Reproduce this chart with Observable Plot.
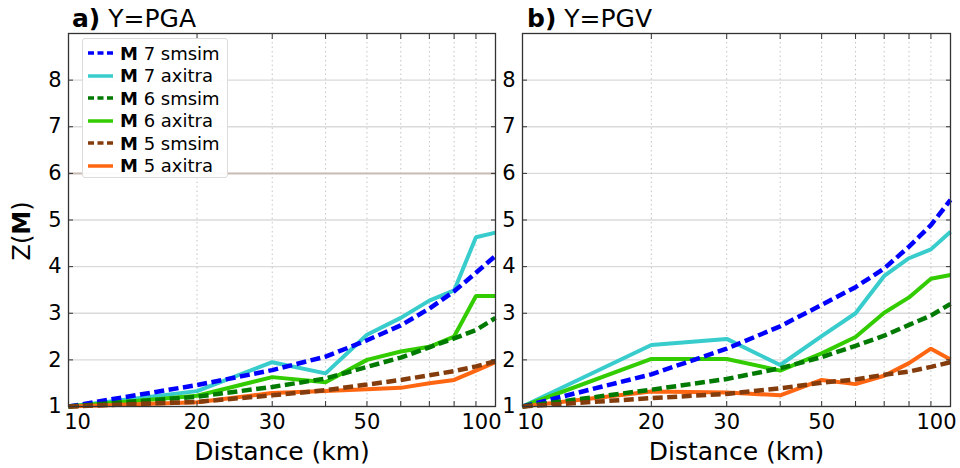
<!DOCTYPE html>
<html>
<head>
<meta charset="utf-8">
<script src="https://cdn.jsdelivr.net/npm/d3@7"></script>
<script src="https://cdn.jsdelivr.net/npm/@observablehq/plot@0.6"></script>
<style>
  html, body { margin: 0; padding: 0; background: #fff; }
  #wrap { position: relative; width: 960px; height: 468px; overflow: hidden; font-family: "DejaVu Sans", sans-serif; color: #000; }
  .panel { position: absolute; top: 0; }
  .panel svg { background: none !important; overflow: visible; }
  .title { position: absolute; font-size: 25px; line-height: 25px; white-space: nowrap; }
  .ylabel { position: absolute; font-size: 24px; white-space: nowrap; transform: translate(-50%, -50%) rotate(-90deg); }
  #legend { position: absolute; box-sizing: border-box; background: rgba(255,255,255,0.92); border: 1px solid #dcdcdc; border-radius: 3px; font-size: 18px; }
  .lrow { position: absolute; left: 0; display: flex; align-items: center; white-space: nowrap; height: 22px; }
</style>
</head>
<body>
<div id="wrap"></div>
<script>
// ---- data ----
const distance = [10, 20, 30, 40, 50, 60, 70, 80, 90, 100];
const magnitudes = [7, 7, 6, 6, 5, 5];
const methods = ["smsim", "axitra", "smsim", "axitra", "smsim", "axitra"];
const panelTitles = ["a)", "b)"];
const panelMeasures = ["Y=PGA", "Y=PGV"];
const yTicks = [1, 2, 3, 4, 5, 6, 7, 8];
const xGridTicks = [20, 30, 40, 50, 60, 70, 80, 90];
const xLabelTicks = [20, 30, 50];
const xEdgeTicks = [10, 100];
const xLabel = "Distance (km)";

// Y = PGA
const pga_m7_smsim  = [1.0, 1.46, 1.78, 2.07, 2.42, 2.74, 3.10, 3.47, 3.87, 4.23];
const pga_m7_axitra = [1.0, 1.33, 1.95, 1.71, 2.54, 2.90, 3.27, 3.49, 4.63, 4.73];
const pga_m6_smsim  = [1.0, 1.21, 1.42, 1.60, 1.85, 2.05, 2.27, 2.46, 2.64, 2.90];
const pga_m6_axitra = [1.0, 1.23, 1.63, 1.52, 2.00, 2.18, 2.28, 2.50, 3.37, 3.37];
const pga_m5_smsim  = [1.0, 1.10, 1.24, 1.35, 1.47, 1.57, 1.67, 1.76, 1.86, 1.97];
const pga_m5_axitra = [1.0, 1.09, 1.29, 1.33, 1.37, 1.40, 1.50, 1.57, 1.77, 1.95];
// Y = PGV
const pgv_m7_smsim  = [1.0, 1.69, 2.24, 2.72, 3.18, 3.56, 3.96, 4.43, 4.89, 5.43];
const pgv_m7_axitra = [1.0, 2.32, 2.45, 1.89, 2.51, 3.00, 3.80, 4.18, 4.37, 4.75];
const pgv_m6_smsim  = [1.0, 1.36, 1.59, 1.82, 2.06, 2.30, 2.52, 2.75, 2.95, 3.20];
const pgv_m6_axitra = [1.0, 2.02, 2.02, 1.77, 2.14, 2.49, 3.01, 3.34, 3.74, 3.82];
const pgv_m5_smsim  = [1.0, 1.18, 1.27, 1.39, 1.51, 1.58, 1.68, 1.75, 1.85, 1.95];
const pgv_m5_axitra = [1.0, 1.32, 1.30, 1.24, 1.57, 1.48, 1.66, 1.93, 2.24, 2.01];

const pgaSeries = [pga_m7_smsim, pga_m7_axitra, pga_m6_smsim, pga_m6_axitra, pga_m5_smsim, pga_m5_axitra];
const pgvSeries = [pgv_m7_smsim, pgv_m7_axitra, pgv_m6_smsim, pgv_m6_axitra, pgv_m5_smsim, pgv_m5_axitra];
const referenceLevelPGA = [6];

// ---- styles ----
const colors = ["#0000ff", "#38cccc", "#007a00", "#33cc00", "#843c0c", "#ff6611"];
const dashed = m => m === "smsim";

function makePanel(series, refLevels, opts) {
  const marks = [
    Plot.gridY(yTicks, {stroke: "#dadada", strokeOpacity: 1, strokeWidth: 1.4}),
    Plot.gridX(xGridTicks, {stroke: "#c4c4c4", strokeOpacity: 1, strokeWidth: 1, strokeDasharray: "1.5,3"}),
  ];
  if (refLevels.length) marks.push(Plot.ruleY(refLevels, {stroke: "#c9bcb5", strokeWidth: 2}));
  // axitra (solid) first, smsim (dashed) over them
  const order = [1, 3, 5, 0, 2, 4];
  for (const k of order) {
    const rows = distance.map((d, i) => ({distance: d, z: series[k][i]}));
    const isDash = dashed(methods[k]);
    marks.push(Plot.line(rows, {
      x: "distance", y: "z", stroke: colors[k],
      strokeWidth: isDash ? 4.5 : 4,
      strokeDasharray: isDash ? "10,4.5" : null,
      strokeLinecap: "butt", strokeLinejoin: "miter"
    }));
  }
  marks.push(
    Plot.frame({stroke: "#333", strokeWidth: 1.3}),
    Plot.axisY(yTicks, {anchor: "left", tickSize: -5, tickPadding: 12, stroke: "#333", fill: "#000", fontSize: 21, label: null}),
    Plot.axisY(yTicks, {anchor: "right", tickSize: -5, tickFormat: () => "", stroke: "#333", label: null}),
    Plot.axisX(xGridTicks, {anchor: "bottom", tickSize: -5, tickFormat: () => "", stroke: "#333", label: null}),
    Plot.axisX(xGridTicks, {anchor: "top", tickSize: -5, tickFormat: () => "", stroke: "#333", label: null}),
    Plot.axisX(xLabelTicks, {anchor: "bottom", tickSize: 0, tickPadding: 8, fill: "#000", fontSize: 21, label: null}),
    Plot.axisX([xEdgeTicks[0]], {anchor: "bottom", tickSize: 0, tickPadding: 8, dx: opts.dx10, fill: "#000", fontSize: 21, label: null}),
    Plot.axisX([xEdgeTicks[1]], {anchor: "bottom", tickSize: 0, tickPadding: 8, dx: -14, fill: "#000", fontSize: 21, label: null}),
    Plot.text([xLabel], {text: d => d, frameAnchor: "bottom", dy: 45, fontSize: 25, fill: "#000", lineAnchor: "middle"})
  );
  return Plot.plot({
    width: opts.width, height: 468,
    marginTop: 33, marginBottom: 62, marginLeft: opts.marginLeft, marginRight: opts.marginRight,
    style: {fontFamily: "DejaVu Sans", fontSize: "21px", background: "none", overflow: "visible", color: "#000"},
    x: {type: "log", domain: [10, 100]},
    y: {domain: [1, 9]},
    marks
  });
}

const wrap = document.getElementById("wrap");
const panels = [
  {series: pgaSeries, ref: referenceLevelPGA, left: 0, width: 500, marginLeft: 68, marginRight: 5, dx10: 9, titleLeft: 72},
  {series: pgvSeries, ref: [], left: 500, width: 460, marginLeft: 22, marginRight: 10, dx10: 8, titleLeft: 527}
];
panels.forEach((p, i) => {
  const div = document.createElement("div");
  div.className = "panel";
  div.style.left = p.left + "px";
  div.appendChild(makePanel(p.series, p.ref, p));
  wrap.appendChild(div);
  const t = document.createElement("div");
  t.className = "title";
  t.style.left = p.titleLeft + "px";
  t.style.top = "6px";
  const b = document.createElement("b");
  b.textContent = panelTitles[i];
  t.appendChild(b);
  t.appendChild(document.createTextNode(" " + panelMeasures[i]));
  wrap.appendChild(t);
});

// y label
const yl = document.createElement("div");
yl.className = "ylabel";
yl.style.left = "22px";
yl.style.top = "231px";
yl.innerHTML = "Z(<b>M</b>)";
wrap.appendChild(yl);

// legend
const legend = document.createElement("div");
legend.id = "legend";
Object.assign(legend.style, {left: "82px", top: "38px", width: "146px", height: "140px"});
magnitudes.forEach((m, k) => {
  const row = document.createElement("div");
  row.className = "lrow";
  row.style.top = (3 + k * 22.5) + "px";
  const isDash = dashed(methods[k]);
  row.innerHTML = `<svg width="37" height="22" style="display:block"><line x1="5" x2="30" y1="11" y2="11" stroke="${colors[k]}" stroke-width="3.5" ${isDash ? 'stroke-dasharray="6,3.5"' : ''}/></svg><span><b>M</b> ${m} ${methods[k]}</span>`;
  legend.appendChild(row);
});
wrap.appendChild(legend);
</script>
</body>
</html>
